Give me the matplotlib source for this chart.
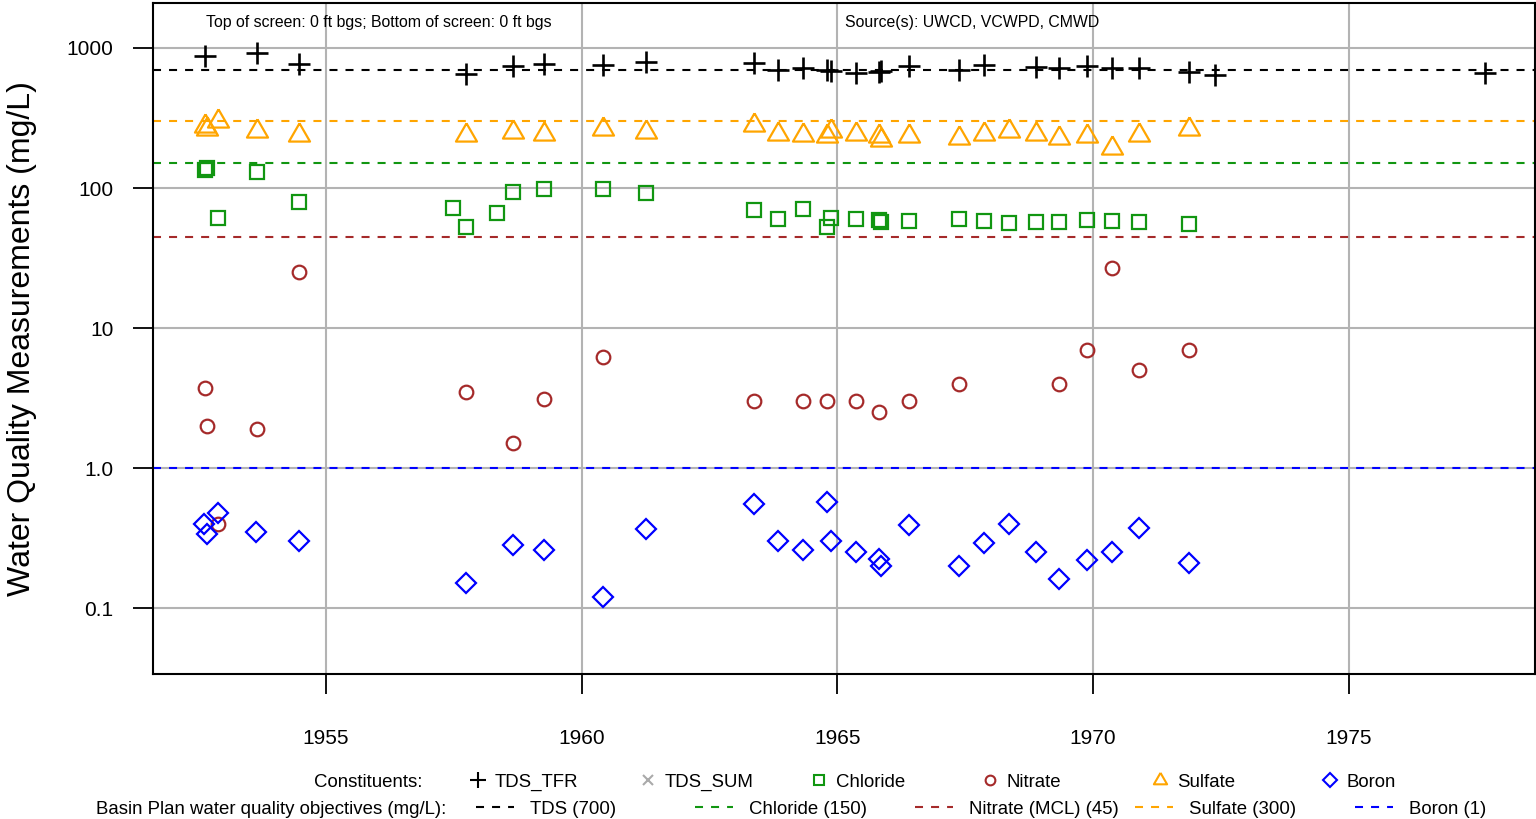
import matplotlib
matplotlib.use('Agg')
import matplotlib.pyplot as plt
from matplotlib.lines import Line2D
from matplotlib.ticker import NullLocator

plt.rcParams['font.family'] = ['Liberation Sans', 'DejaVu Sans']

# ---------------- data (decimal years, mg/L) ----------------
tds_year = [1952.63, 1953.65, 1954.47, 1957.74, 1958.65, 1959.27, 1960.41, 1961.25,
            1963.37, 1963.84, 1964.33, 1964.79, 1964.87, 1965.36, 1965.81, 1965.85,
            1966.40, 1967.38, 1967.86, 1968.88, 1969.34, 1969.88, 1970.36, 1970.89,
            1971.87, 1972.38, 1977.66]
tds_val = [877, 921, 769, 652, 744, 769, 756, 794,
           781, 700, 720, 700, 690, 662, 675, 685,
           740, 700, 750, 730, 720, 740, 720, 725,
           675, 646, 662]

sulfate_year = [1952.63, 1952.67, 1952.89, 1953.65, 1954.47, 1957.74, 1958.65, 1959.27,
                1960.41, 1961.25, 1963.37, 1963.84, 1964.33, 1964.79, 1964.87, 1965.36,
                1965.81, 1965.85, 1966.40, 1967.38, 1967.86, 1968.35, 1968.88, 1969.34,
                1969.88, 1970.36, 1970.89, 1971.87]
sulfate_val = [276, 266, 303, 257, 241, 241, 250, 245,
               262, 252, 284, 245, 241, 237, 257, 245,
               237, 219, 237, 226, 245, 257, 245, 226,
               237, 192, 241, 266]

chloride_year = [1952.63, 1952.67, 1952.89, 1953.65, 1954.47, 1957.48, 1957.74, 1958.34,
                 1958.65, 1959.27, 1960.41, 1961.25, 1963.37, 1963.84, 1964.33, 1964.79,
                 1964.87, 1965.36, 1965.81, 1965.85, 1966.40, 1967.38, 1967.86, 1968.35,
                 1968.88, 1969.34, 1969.88, 1970.36, 1970.89, 1971.87]
chloride_val = [134, 139, 61, 130, 79, 72, 53, 66,
                93, 98, 98, 92, 70, 60, 71, 53,
                61, 60, 59, 57, 58, 60, 58, 56,
                57, 57, 59, 58, 57, 55]

nitrate_year = [1952.63, 1952.67, 1952.89, 1953.65, 1954.47, 1957.74, 1958.65, 1959.27,
                1960.41, 1963.37, 1964.33, 1964.79, 1965.36, 1965.81, 1966.40, 1967.38,
                1969.34, 1969.88, 1970.36, 1970.89, 1971.87]
nitrate_val = [3.7, 2.0, 0.40, 1.9, 25, 3.5, 1.5, 3.1,
               6.2, 3.0, 3.0, 3.0, 3.0, 2.5, 3.0, 4.0,
               4.0, 7.0, 27, 5.0, 7.0]

boron_year = [1952.62, 1952.67, 1952.89, 1953.63, 1954.47, 1957.74, 1958.65, 1959.27,
              1960.41, 1961.25, 1963.37, 1963.84, 1964.33, 1964.79, 1964.87, 1965.36,
              1965.81, 1965.85, 1966.40, 1967.38, 1967.86, 1968.35, 1968.88, 1969.34,
              1969.88, 1970.36, 1970.89, 1971.87]
boron_val = [0.40, 0.34, 0.48, 0.35, 0.30, 0.15, 0.28, 0.26,
             0.12, 0.365, 0.55, 0.30, 0.26, 0.57, 0.30, 0.25,
             0.225, 0.20, 0.39, 0.20, 0.29, 0.40, 0.25, 0.16,
             0.22, 0.25, 0.37, 0.21]

objective_labels = ['TDS (700)', 'Chloride (150)', 'Nitrate (MCL) (45)', 'Sulfate (300)', 'Boron (1)']
objective_values = [700, 150, 45, 300, 1]

constituent_labels = ['TDS_TFR', 'TDS_SUM', 'Chloride', 'Nitrate', 'Sulfate', 'Boron']

x_ticks = [1955, 1960, 1965, 1970, 1975]
y_ticks = [0.1, 1, 10, 100, 1000]
y_ticklabels = ['0.1', '1.0', '10', '100', '1000']

# ---------------- styles ----------------
C_TDS = 'black'
C_CL = '#119611'
C_NO3 = '#a52a2a'
C_SO4 = '#ffa500'
C_B = '#0000ff'
C_SUM = '#aaaaaa'
obj_colors = [C_TDS, C_CL, C_NO3, C_SO4, C_B]
tri = [(0, 1), (-0.866, -0.5), (0.866, -0.5), (0, 1)]
DASH = (0, (3.85, 3.85))

W, H = 1536, 819
fig = plt.figure(figsize=(W / 100, H / 100), dpi=100)
ax = fig.add_axes([153 / W, 1 - 674 / H, (1535 - 153) / W, (674 - 3) / H])

ax.set_yscale('log')
ax.set_xlim(1951.62, 1978.64)
ax.set_ylim(0.0338, 2096)
ax.set_xticks(x_ticks)
ax.set_xticklabels([str(t) for t in x_ticks])
ax.set_yticks(y_ticks)
ax.set_yticklabels(y_ticklabels)
ax.yaxis.set_minor_locator(NullLocator())
ax.tick_params(axis='both', labelsize=15, length=14.4, width=1.3, direction='out')
ax.tick_params(axis='y', pad=14)
ax.tick_params(axis='x', pad=25)
ax.set_axisbelow(True)
ax.grid(True, which='major', color='#b3b3b3', lw=1.5)
for s in ax.spines.values():
    s.set_linewidth(1.5)
    s.set_color('black')

for v, c in zip(objective_values, obj_colors):
    ax.axhline(v, color=c, ls=DASH, lw=1.5, zorder=2)

mk = dict(ls='none', mfc='none', zorder=3)
ax.plot(tds_year, tds_val, marker='+', ms=16, mew=1.9, mec=C_TDS, **mk)
ax.plot(sulfate_year, sulfate_val, marker=tri, ms=17.5, mew=1.6, mec=C_SO4, **mk)
ax.plot(chloride_year, chloride_val, marker='s', ms=10, mew=1.6, mec=C_CL, **mk)
ax.plot(nitrate_year, nitrate_val, marker='o', ms=9.8, mew=1.6, mec=C_NO3, **mk)
ax.plot(boron_year, boron_val, marker='D', ms=9.7, mew=1.6, mec=C_B, **mk)

ax.text((379 - 153) / 1382, (674 - 23) / 671, 'Top of screen: 0 ft bgs; Bottom of screen: 0 ft bgs',
        transform=ax.transAxes, ha='center', va='center', fontsize=11.4)
ax.text((972 - 153) / 1382, (674 - 23) / 671, 'Source(s): UWCD, VCWPD, CMWD',
        transform=ax.transAxes, ha='center', va='center', fontsize=11.4)

fig.text(22 / W, 1 - 339 / H, 'Water Quality Measurements (mg/L)', rotation=90,
         ha='center', va='center', fontsize=23)

# ---------------- legend (manual) ----------------
def fx(px):
    return px / W

def fy(py):
    return 1 - py / H

r1, r2 = 780, 807
t1, t2 = 782.5, 809.5
fig.text(fx(422), fy(t1), 'Constituents:', ha='right', va='center', fontsize=13.4)
fig.text(fx(446), fy(t2), 'Basin Plan water quality objectives (mg/L):', ha='right', va='center', fontsize=13.4)

leg_markers = ['+', 'x', 's', 'o', tri, 'D']
leg_colors = [C_TDS, C_SUM, C_CL, C_NO3, C_SO4, C_B]
leg_sizes = [11, 7, 7, 7, 11, 7.5]
leg_mx = [478, 648, 819, 990, 1160, 1330]
for lab, m, c, s, x in zip(constituent_labels, leg_markers, leg_colors, leg_sizes, leg_mx):
    fig.add_artist(Line2D([fx(x)], [fy(r1)], transform=fig.transFigure, marker=m, ms=s,
                          mfc='none', mec=c, mew=1.5, ls='none'))
    fig.text(fx(x + 17), fy(t1), lab, ha='left', va='center', fontsize=13.4)

leg_lx = [476, 695, 915, 1135, 1355]
for lab, c, x in zip(objective_labels, obj_colors, leg_lx):
    fig.add_artist(Line2D([fx(x), fx(x + 38)], [fy(r2), fy(r2)], transform=fig.transFigure,
                          color=c, lw=1.5, ls=DASH))
    fig.text(fx(x + 54), fy(t2), lab, ha='left', va='center', fontsize=13.4)

fig.savefig('out.png', dpi=100)
